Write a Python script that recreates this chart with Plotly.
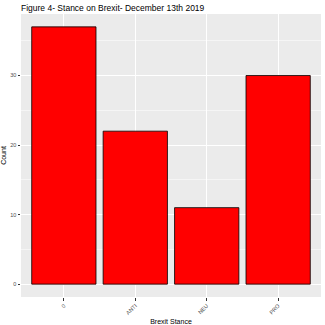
import plotly.graph_objects as go

categories = ["0", "ANTI", "NEU", "PRO"]
counts = [37, 22, 11, 30]

fig = go.Figure()
fig.add_trace(go.Bar(
    x=categories, y=counts, width=0.9,
    marker=dict(color="#FF0000", line=dict(color="black", width=0.8)),
))

fig.update_layout(
    width=325, height=325,
    margin=dict(l=21, r=4, t=14, b=28, autoexpand=False),
    paper_bgcolor="white", plot_bgcolor="#EBEBEB",
    font=dict(family="Liberation Sans, Arial, sans-serif", size=6, color="#4D4D4D"),
    showlegend=False,
    title=dict(text="Figure 4- Stance on Brexit- December 13th 2019",
               x=21/325, xanchor="left", y=1-8/325, yanchor="middle",
               font=dict(size=8.5, color="black")),
    bargap=0.1,
)
fig.update_xaxes(
    range=[-0.6, 3.6], type="category", automargin=False,
    showgrid=True, gridcolor="white", gridwidth=1,
    ticks="outside", ticklen=2.5, tickcolor="#333333", tickwidth=0.6,
    tickangle=-45, tickfont=dict(size=5.5, color="#4D4D4D"),
    title=dict(text="Brexit Stance", font=dict(size=7, color="black"), standoff=4),
    zeroline=False, showline=False,
)
fig.update_yaxes(
    range=[-1.85, 38.85], tickvals=[0, 10, 20, 30], automargin=False,
    showgrid=True, gridcolor="white", gridwidth=1,
    minor=dict(tickvals=[5, 15, 25, 35], showgrid=True, gridcolor="#F5F5F5", gridwidth=0.5),
    ticks="outside", ticklen=2.5, tickcolor="#333333", tickwidth=0.6,
    tickfont=dict(size=5.5, color="#4D4D4D"),
    title=dict(text="Count", font=dict(size=7, color="black"), standoff=3),
    zeroline=False, showline=False,
)

fig.write_html("out.html")
